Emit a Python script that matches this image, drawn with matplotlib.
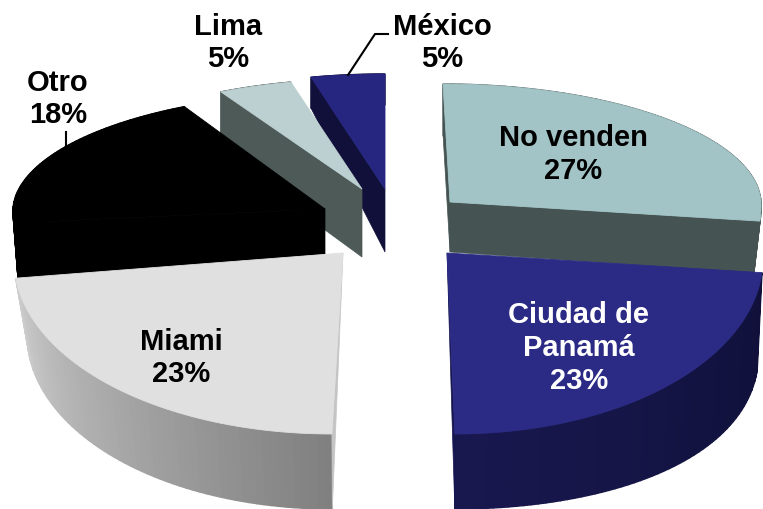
import numpy as np
import matplotlib
matplotlib.use('Agg')
import matplotlib.pyplot as plt
from matplotlib.colors import to_rgb

labels = ['No venden\n27%', 'Ciudad de\nPanamá\n23%', 'Miami\n23%', 'Otro\n18%', 'Lima\n5%', 'México\n5%']
values = [27, 23, 23, 18, 5, 5]

# look of each slice, same order as values
top_colors = ['#a3c4c6', '#2b2b85', '#e0e0e0', '#000000', '#bcd0d2', '#262680']
wall_from = ['#455353', '#10103a', '#808080', '#000000', '#4d5a58', '#10103a']
wall_to = ['#455353', '#18184f', '#cccccc', '#000000', '#4d5a58', '#10103a']
start_colors = ['#455353', '#10103a', '#c4c4c4', '#000000', '#4d5a58', '#10103a']
end_colors = ['#455353', '#15154f', '#c4c4c4', '#000000', '#4d5a58', '#10103a']
centers = [(450, 203), (447, 254), (343, 254), (325, 210), (362, 190), (385, 190)]
radius_x = [311, 316, 329, 312, 300, 312]
ry_back = [118, 120, 120, 116, 110, 115]
ry_front = [176, 181, 181, 100, 100, 100]
lean = [7, 8, -11, -7, 0, 0]
wall_base = [52, 75, 75, 60, 62, 31]
wall_extra = [0, 22, 0, 0, 0, 0]
wall_scale = [0.98, 0.985, 0.96, 0.985, 1, 1]
apex_depth = [50, 0, 0, 45, 68, 63]
show_start = [True, False, True, True, True, True]
show_end = [True, True, False, False, False, False]
draw_order = [5, 4, 3, 0, 2, 1]

text_pos = [(573, 154.5), (579, 348), (181, 358), (58, 99), (228, 43), (442, 43)]
text_colors = ['black', 'white', 'black', 'black', 'black', 'black']

# the perspective stretches the back of the pie a little
warp_in = np.radians([0, 96.2, 178.2, 260.2, 324.4, 342.2, 360])
warp_out = np.radians([0, 96.2, 180, 262, 332, 346.3, 360])


def rim(i, theta):
    # point on the top rim, theta is clockwise from the top of the pie
    cx, cy = centers[i]
    t = np.interp(theta, warp_in, warp_out)
    c = np.cos(t)
    s = np.sin(t)
    ry = np.where(c > 0, ry_back[i], ry_front[i])
    return cx + radius_x[i] * s - c * lean[i], cy - ry * c, s


def lower(i, x, y, s):
    # same rim point on the bottom of the wall
    cx = centers[i][0]
    return cx + (x - cx) * wall_scale[i], y + wall_base[i] + wall_extra[i] * s ** 2


fig = plt.figure(figsize=(7.63, 5.10), dpi=100)
ax = fig.add_axes([0, 0, 1, 1])
ax.set_xlim(0, 763)
ax.set_ylim(510, 0)
ax.axis('off')

edges = np.cumsum([0] + values) / sum(values) * 2 * np.pi

for i in draw_order:
    start, end = edges[i], edges[i + 1]
    cx, cy = centers[i]

    # outer wall, cut in thin strips for the gradient
    th = np.linspace(start, end, 60)
    x, y, s = rim(i, th)
    bx, by = lower(i, x, y, s)
    c1, c2 = np.array(to_rgb(wall_from[i])), np.array(to_rgb(wall_to[i]))
    for k in range(len(th) - 1):
        t = k / (len(th) - 2)
        col = c1 + (c2 - c1) * t
        ax.fill([x[k], x[k + 1], bx[k + 1], bx[k]],
                [y[k], y[k + 1], by[k + 1], by[k]],
                color=col, lw=1.0)

    # the cut faces
    for flag, a, col in ((show_start[i], start, start_colors[i]), (show_end[i], end, end_colors[i])):
        if flag:
            px, py, ps = rim(i, np.array(a))
            qx, qy = lower(i, px, py, ps)
            ax.fill([cx, px, qx, cx], [cy, py, qy, cy + apex_depth[i]], color=col, lw=0.5)

    # top face
    ax.fill(np.r_[cx, x], np.r_[cy, y], color=top_colors[i], lw=0.6)

# leader lines
ax.plot([66, 66], [133, 156], color='black', lw=1.5)
ax.plot([348, 375, 388], [76, 35, 35], color='black', lw=1.5)

for i in range(len(labels)):
    ax.text(text_pos[i][0], text_pos[i][1], labels[i], color=text_colors[i],
            ha='center', va='center', fontsize=21, fontweight='bold',
            family='Liberation Sans', linespacing=1.22)

fig.savefig('out.png', dpi=100)
